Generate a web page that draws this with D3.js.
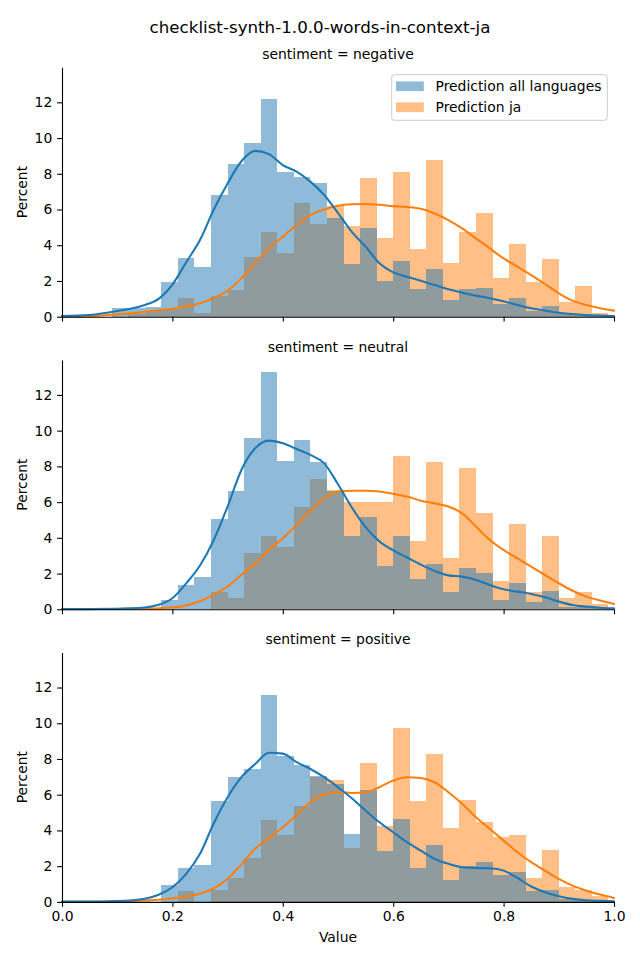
<!DOCTYPE html>
<html><head><meta charset="utf-8">
<script src="https://cdn.jsdelivr.net/npm/d3@7"></script>
<style>body{margin:0;background:#fff} text{font-family:"DejaVu Sans",sans-serif}</style>
</head><body><svg id="c" width="640" height="960"></svg>
<script>
const title = "checklist-synth-1.0.0-words-in-context-ja";
const panels = ["negative","neutral","positive"];
const seriesNames = ["Prediction all languages","Prediction ja"];
const binEdges = [0.09,0.12,0.15,0.18,0.21,0.24,0.27,0.30,0.33,0.36,0.39,0.42,0.45,0.48,0.51,0.54,0.57,0.60,0.63,0.66,0.69,0.72,0.75,0.78,0.81,0.84,0.87,0.90,0.93,0.96,0.99];
const xTicks = [0,0.2,0.4,0.6,0.8,1.0];
const yTicks = [0,2,4,6,8,10,12];
const yMax = 13.96;

const negAll = [0.47,0.47,0.56,1.96,3.28,2.78,6.81,8.55,9.72,12.18,8.10,7.82,7.48,5.52,2.95,4.96,2.00,3.12,1.55,2.67,0.93,1.55,1.58,0.71,1.04,0.32,0.60,0.15,0.10,0.07];
const negJa  = [0,0.15,0.3,0.43,1.06,0.22,1.16,1.49,3.34,4.74,3.58,6.36,5.19,6.2,5.07,7.76,4.40,8.10,3.79,8.77,3.0,4.74,5.80,2.16,4.07,1.94,3.23,0.82,1.72,0.2];
const neuAll = [0,0,0,0.52,1.36,1.81,5.06,6.62,9.59,13.28,8.30,9.48,8.25,6.62,4.10,5.17,2.43,4.10,1.70,2.54,0.97,2.31,2.03,0.52,1.47,0.41,1.03,0.13,0.13,0.09];
const neuJa  = [0,0,0,0,0,0,0.97,0.63,3.15,4.10,3.49,5.73,7.29,6.68,6.0,6.0,6.0,8.58,3.82,8.25,2.87,7.91,5.39,1.59,4.78,0.97,4.10,0.63,0.97,0.30];
const posAll = [0,0,0,0.97,1.92,2.09,5.62,7.01,7.46,11.6,8.19,7.69,7.03,6.62,3.82,6.29,2.87,4.66,1.92,3.21,1.25,2.03,2.26,1.53,1.70,0.63,0.69,0.19,0.13,0.10];
const posJa  = [0,0,0,0,0.6,0,0.69,1.31,2.43,4.61,3.77,5.39,7.0,6.85,3.04,7.80,4.27,9.76,5.62,8.30,4.16,5.73,4.50,3.66,3.77,1.31,2.93,0.86,0.69,0.35];

const kdeX = [0,0.05,0.1,0.15,0.175,0.2,0.225,0.25,0.275,0.3,0.325,0.35,0.375,0.4,0.425,0.45,0.475,0.5,0.525,0.55,0.575,0.6,0.625,0.65,0.675,0.7,0.725,0.75,0.775,0.8,0.825,0.85,0.875,0.9,0.925,0.95,0.975,1.0];
const negKdeAll = [0.04,0.1,0.32,0.65,1.0,1.8,3.05,4.29,6.0,7.46,8.7,9.28,9.1,8.49,8.12,7.56,6.81,5.8,4.75,3.92,2.99,2.48,2.24,2.01,1.77,1.53,1.34,1.18,1.03,0.86,0.65,0.47,0.34,0.22,0.15,0.09,0.06,0.04];
const negKdeJa  = [0.01,0.03,0.13,0.27,0.36,0.45,0.58,0.75,1.05,1.45,2.15,2.99,3.82,4.48,5.13,5.69,6.0,6.21,6.29,6.31,6.27,6.19,6.14,6.04,5.78,5.41,4.94,4.38,3.82,3.26,2.80,2.33,1.83,1.31,0.90,0.65,0.47,0.34];
const neuKdeAll = [0.02,0.02,0.03,0.1,0.25,0.62,1.45,2.45,3.88,5.75,7.8,9.01,9.44,9.29,8.97,8.64,8.17,7.0,5.7,4.6,3.8,3.3,2.9,2.5,2.15,1.9,1.83,1.64,1.36,1.12,0.99,0.86,0.67,0.43,0.24,0.15,0.09,0.06];
const neuKdeJa  = [0,0.01,0.02,0.04,0.06,0.1,0.22,0.45,0.82,1.28,1.92,2.57,3.32,3.97,4.72,5.52,6.21,6.59,6.64,6.64,6.59,6.46,6.31,6.08,5.93,5.75,5.37,4.63,3.88,3.32,2.85,2.39,1.92,1.46,1.04,0.71,0.49,0.30];
const posKdeAll = [0.02,0.02,0.05,0.18,0.4,0.82,1.57,2.69,4.4,5.86,6.98,7.72,8.35,8.3,7.82,7.44,6.98,6.42,5.8,5.11,4.46,3.9,3.34,2.87,2.41,2.13,1.94,1.9,1.88,1.75,1.34,0.86,0.54,0.32,0.17,0.09,0.06,0.04];
const posKdeJa  = [0,0.01,0.03,0.08,0.12,0.2,0.3,0.45,0.75,1.3,2.1,2.97,3.58,4.18,4.87,5.58,6.01,6.14,6.10,6.14,6.42,6.79,6.98,6.94,6.70,6.14,5.49,4.74,4.09,3.43,2.78,2.22,1.75,1.29,0.91,0.63,0.41,0.22];

const barsAll = [negAll, neuAll, posAll];
const barsJa = [negJa, neuJa, posJa];
const kdeAll = [negKdeAll, neuKdeAll, posKdeAll];
const kdeJa = [negKdeJa, neuKdeJa, posKdeJa];

const colors = ["#1f77b4", "#ff7f0e"];
const svg = d3.select("#c");
const L = 62, R = 614, W = R - L, H = 249.4;
const tops = [67.3, 359.9, 652.5];
const FS = 13.9, TICK = 4.86;

svg.append("text").attr("x", 320).attr("y", 33).attr("text-anchor", "middle")
  .attr("font-size", 16.7).text(title);

const x = d3.scaleLinear().domain([0, 1]).range([0, W]);
const y = d3.scaleLinear().domain([0, yMax]).range([H, 0]);

panels.forEach((p, i) => {
  const g = svg.append("g").attr("transform", `translate(${L},${tops[i]})`);
  // bars: ja first, then all languages on top
  [[barsJa[i], colors[1]], [barsAll[i], colors[0]]].forEach(([vals, col]) => {
    g.append("g").attr("shape-rendering", "crispEdges").selectAll("rect")
      .data(vals.map((v, k) => ({v, k})).filter(d => d.v > 0))
      .join("rect")
      .attr("x", d => x(binEdges[d.k]))
      .attr("width", d => x(binEdges[d.k + 1]) - x(binEdges[d.k]))
      .attr("y", d => y(d.v))
      .attr("height", d => y(0) - y(d.v))
      .attr("fill", col).attr("fill-opacity", 0.5);
  });
  const line = d3.line().x((d, k) => x(kdeX[k])).y(d => y(d)).curve(d3.curveMonotoneX);
  [[kdeJa[i], colors[1]], [kdeAll[i], colors[0]]].forEach(([vals, col]) => {
    g.append("path").attr("d", line(vals)).attr("fill", "none")
      .attr("stroke", col).attr("stroke-width", 2.08).attr("stroke-linecap", "round");
  });
  // axes
  const ya = g.append("g").call(d3.axisLeft(y).tickValues(yTicks).tickFormat(d3.format("d"))
    .tickSize(TICK).tickPadding(TICK).tickSizeOuter(0));
  const xa = g.append("g").attr("transform", `translate(0,${H})`)
    .call(d3.axisBottom(x).tickValues(xTicks).tickFormat(d3.format(".1f"))
      .tickSize(TICK).tickPadding(TICK).tickSizeOuter(0));
  if (i < 2) xa.selectAll("text").remove();
  [ya, xa].forEach(a => {
    a.selectAll("path,line").attr("stroke", "#000").attr("stroke-width", 1.1);
    a.selectAll("text").attr("font-size", FS).attr("font-family", "DejaVu Sans").attr("fill", "#000");
  });
  g.append("text").attr("x", W / 2).attr("y", -8.3).attr("text-anchor", "middle")
    .attr("font-size", FS).text("sentiment = " + p);
  svg.append("text").attr("transform", `translate(26.5,${tops[i] + H / 2}) rotate(-90)`)
    .attr("text-anchor", "middle").attr("font-size", FS).text("Percent");
  if (i === 0) {
    const lg = svg.append("g");
    lg.append("rect").attr("x", 391.7).attr("y", 74.7).attr("width", 215.6).attr("height", 45.6)
      .attr("rx", 2.8).attr("fill", "#fff").attr("fill-opacity", 0.8)
      .attr("stroke", "#cccccc").attr("stroke-width", 1);
    seriesNames.forEach((n, k) => {
      const cy = 86.3 + k * 21;
      lg.append("rect").attr("x", 396).attr("y", cy - 4.9).attr("width", 27.8).attr("height", 9.7)
        .attr("fill", colors[k]).attr("fill-opacity", 0.5);
      lg.append("text").attr("x", 435.5).attr("y", cy + 4.8).attr("font-size", FS).text(n);
    });
  }
});
svg.append("text").attr("x", L + W / 2).attr("y", 941.5).attr("text-anchor", "middle")
  .attr("font-size", FS).text("Value");
</script></body></html>
